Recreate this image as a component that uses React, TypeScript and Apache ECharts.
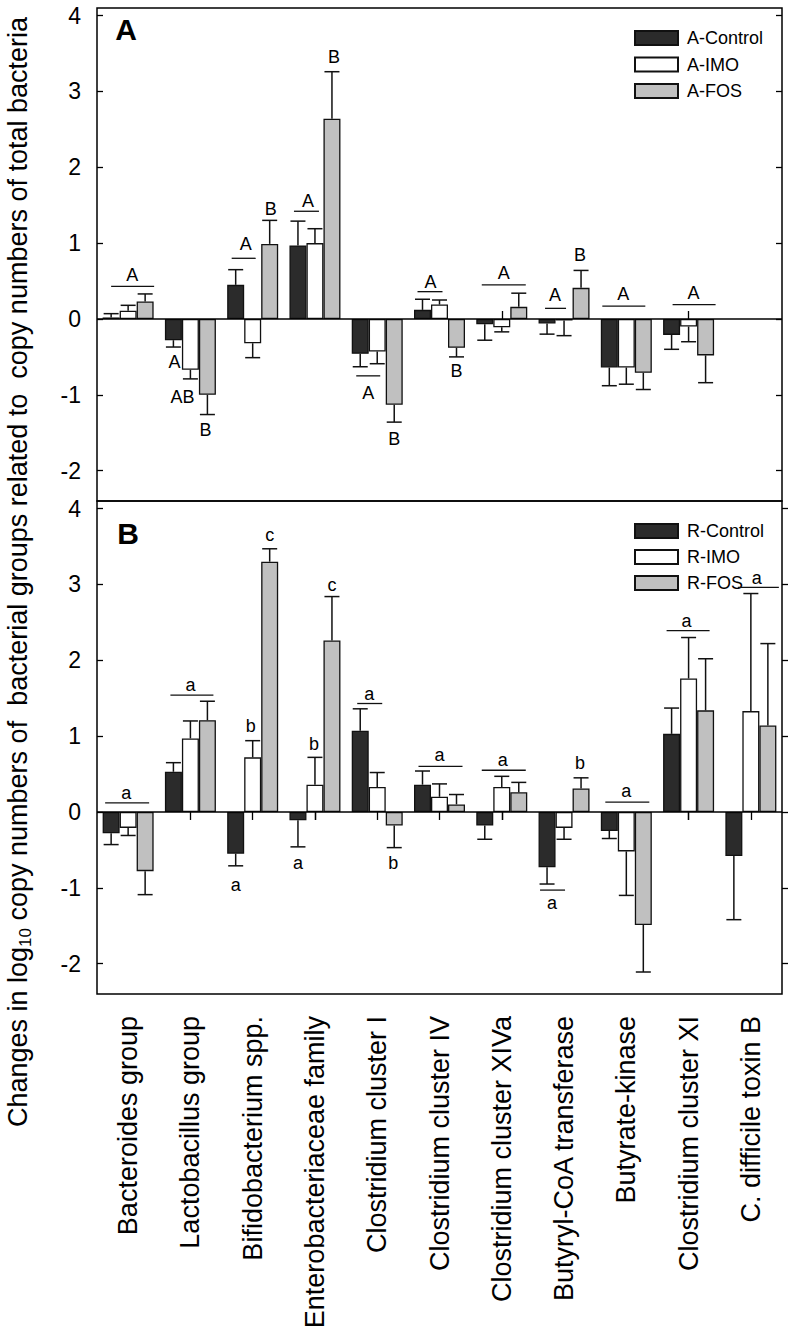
import React, { useEffect, useRef } from "react";
import * as echarts from "echarts";

const FONT = "'Liberation Sans', Arial, Helvetica, sans-serif";

const categories = [
  "Bacteroides group",
  "Lactobacillus group",
  "Bifidobacterium spp.",
  "Enterobacteriaceae family",
  "Clostridium cluster I",
  "Clostridium cluster IV",
  "Clostridium cluster XIVa",
  "Butyryl-CoA transferase",
  "Butyrate-kinase",
  "Clostridium cluster XI",
  "C. difficile toxin B",
];

const yTicks = [-2, -1, 0, 1, 2, 3, 4];

// Panel A
const aControl = [0.02, -0.28, 0.45, 0.97, -0.46, 0.12, -0.07, -0.06, -0.64, -0.21, null];
const aControlErr = [0.05, 0.09, 0.2, 0.32, 0.17, 0.14, 0.21, 0.14, 0.24, 0.19, null];
const aIMO = [0.11, -0.67, -0.32, 1.0, -0.43, 0.19, -0.11, -0.02, -0.64, -0.1, null];
const aIMOErr = [0.07, 0.12, 0.19, 0.19, 0.16, 0.06, 0.06, 0.2, 0.22, 0.2, null];
const aFOS = [0.23, -1.0, 0.99, 2.64, -1.13, -0.38, 0.16, 0.41, -0.71, -0.48, null];
const aFOSErr = [0.1, 0.26, 0.31, 0.62, 0.23, 0.12, 0.18, 0.23, 0.22, 0.36, null];

// Panel B
const rControl = [-0.28, 0.53, -0.55, -0.11, 1.07, 0.36, -0.18, -0.73, -0.25, 1.03, -0.58];
const rControlErr = [0.15, 0.12, 0.16, 0.35, 0.29, 0.18, 0.18, 0.22, 0.1, 0.34, 0.84];
const rIMO = [-0.21, 0.97, 0.72, 0.36, 0.33, 0.2, 0.33, -0.21, -0.52, 1.76, 1.33];
const rIMOErr = [0.1, 0.23, 0.22, 0.36, 0.19, 0.17, 0.14, 0.15, 0.58, 0.54, 1.55];
const rFOS = [-0.78, 1.21, 3.3, 2.26, -0.18, 0.1, 0.26, 0.31, -1.49, 1.34, 1.14];
const rFOSErr = [0.31, 0.25, 0.17, 0.58, 0.29, 0.13, 0.13, 0.14, 0.62, 0.68, 1.08];

// significance letters: [category, text, value]
const lettersA: [number, string, number][] = [
  [0, "A", 0.58],
  [1, "A", -0.57], [1, "AB", -1.03], [1, "B", -1.47],
  [2, "A", 0.99], [2, "B", 1.45],
  [3, "A", 1.56], [3, "B", 3.45],
  [4, "A", -0.98], [4, "B", -1.58],
  [5, "A", 0.49], [5, "B", -0.68],
  [6, "A", 0.6],
  [7, "A", 0.31], [7, "B", 0.85],
  [8, "A", 0.33],
  [9, "A", 0.34],
];
const lettersAShift = [4, -16, -8, 15, -7, 18, -7, 19, -9, 17, -9, 17, 2, -9, 16, -3, 5];

const lettersB: [number, string, number][] = [
  [0, "a", 0.25],
  [1, "a", 1.68],
  [2, "b", 1.13], [2, "c", 3.65], [2, "a", -0.96],
  [3, "b", 0.89], [3, "c", 2.99], [3, "a", -0.67],
  [4, "a", 1.55], [4, "b", -0.67],
  [5, "a", 0.75],
  [6, "a", 0.69],
  [7, "a", -1.2], [7, "b", 0.64],
  [8, "a", 0.27],
  [9, "a", 2.52],
  [10, "a", 3.08],
];
const lettersBShift = [-2, 0, -2, 17, -17, -1, 17, -17, -8, 16, 0, 1, -12, 16, 0, -2, 6];

// significance lines: [category, value]
const linesA: [number, number][] = [
  [0, 0.43], [2, 0.8], [3, 1.42], [4, -0.75], [5, 0.36], [6, 0.45], [7, 0.14], [8, 0.17], [9, 0.19],
];
const linesASpan = [[-17, 26], [-21, 3], [-21, 4], [-21, 3], [-22, 3], [-20, 24], [-19, 2], [-24, 19], [-16, 27]];
const linesB: [number, number][] = [
  [0, 0.12], [1, 1.54], [4, 1.43], [5, 0.6], [6, 0.55], [7, -1.03], [8, 0.13], [9, 2.39], [10, 2.96],
];
const linesBSpan = [[-23, 21], [-20, 23], [-20, 5], [-21, 23], [-20, 24], [-24, 1], [-21, 23], [-22, 21], [-13, 28]];

const COLORS = { control: "#2b2b2b", imo: "#ffffff", fos: "#c0c0c0" };
const BAR_W = 17;

function barSeries(name: string, data: (number | null)[], color: string, axis: number, zero: boolean) {
  const s: any = {
    name,
    type: "bar",
    xAxisIndex: axis === 0 ? 0 : 2,
    yAxisIndex: axis === 0 ? 0 : 2,
    data,
    barWidth: BAR_W,
    barGap: "0%",
    itemStyle: { color, borderColor: "#111", borderWidth: 1.3 },
    z: 2,
  };
  if (zero) {
    s.markLine = {
      silent: true,
      symbol: "none",
      label: { show: false },
      lineStyle: { color: "#000", type: "solid", width: 1.5 },
      data: [{ yAxis: 0 }],
      z: 5,
    };
  }
  return s;
}

function errSeries(values: (number | null)[], errs: (number | null)[], offset: number, axis: number) {
  const data: number[][] = [];
  values.forEach((v, i) => {
    if (v !== null && errs[i] !== null) data.push([i, v as number, errs[i] as number]);
  });
  return {
    type: "custom",
    xAxisIndex: axis === 0 ? 0 : 2,
    yAxisIndex: axis === 0 ? 0 : 2,
    z: 4,
    silent: true,
    data,
    renderItem: (params: any, api: any) => {
      const i = api.value(0);
      const v = api.value(1);
      const e = api.value(2);
      const end = v + (v >= 0 ? e : -e);
      const p0 = api.coord([i, v]);
      const p1 = api.coord([i, end]);
      const x = p0[0] + offset;
      return {
        type: "group",
        children: [
          { type: "line", shape: { x1: x, y1: p0[1], x2: x, y2: p1[1] }, style: { stroke: "#111", lineWidth: 1.5 } },
          { type: "line", shape: { x1: x - 7.5, y1: p1[1], x2: x + 7.5, y2: p1[1] }, style: { stroke: "#111", lineWidth: 1.5 } },
        ],
      };
    },
  };
}

function letterSeries(letters: [number, string, number][], shifts: number[], axis: number) {
  return {
    type: "custom",
    xAxisIndex: axis === 0 ? 0 : 2,
    yAxisIndex: axis === 0 ? 0 : 2,
    z: 6,
    silent: true,
    data: letters.map((l) => [l[0], l[2]]),
    renderItem: (params: any, api: any) => {
      const l = letters[params.dataIndex];
      const p = api.coord([l[0], l[2]]);
      return {
        type: "text",
        x: p[0] + shifts[params.dataIndex],
        y: p[1],
        style: { text: l[1], fontSize: 18, fontFamily: FONT, fill: "#000", align: "center", verticalAlign: "middle" },
      };
    },
  };
}

function sigLineSeries(lines: [number, number][], spans: number[][], axis: number) {
  return {
    type: "custom",
    xAxisIndex: axis === 0 ? 0 : 2,
    yAxisIndex: axis === 0 ? 0 : 2,
    z: 6,
    silent: true,
    data: lines.map((l) => [l[0], l[1]]),
    renderItem: (params: any, api: any) => {
      const l = lines[params.dataIndex];
      const sp = spans[params.dataIndex];
      const p = api.coord([l[0], l[1]]);
      return {
        type: "line",
        shape: { x1: p[0] + sp[0], y1: p[1], x2: p[0] + sp[1], y2: p[1] },
        style: { stroke: "#111", lineWidth: 1.3 },
      };
    },
  };
}

function yAxisDef(grid: number, position: "left" | "right", showLabel: boolean, inside: boolean) {
  return {
    type: "value",
    gridIndex: grid,
    position,
    min: -2.4,
    max: 4.1,
    axisLine: { show: false },
    splitLine: { show: false },
    axisTick: { show: true, inside, length: 6, customValues: yTicks, lineStyle: { color: "#000", width: 1.3 } },
    axisLabel: {
      show: showLabel,
      customValues: yTicks,
      fontSize: 23,
      color: "#000",
      fontFamily: FONT,
      margin: 16,
    },
  };
}

export default function App() {
  const ref = useRef<HTMLDivElement>(null);

  useEffect(() => {
    if (!ref.current) return;
    const chart = echarts.init(ref.current, undefined, { renderer: "svg" });

    const option: any = {
      animation: false,
      backgroundColor: "#ffffff",
      textStyle: { fontFamily: FONT },
      grid: [
        { left: 97, top: 8, width: 685, height: 493, show: true, borderColor: "#000", borderWidth: 1.5, backgroundColor: "transparent" },
        { left: 97, top: 501, width: 685, height: 493, show: true, borderColor: "#000", borderWidth: 1.5, backgroundColor: "transparent" },
      ],
      legend: [
        {
          data: ["A-Control", "A-IMO", "A-FOS"],
          orient: "vertical",
          left: 629,
          top: 24,
          itemWidth: 43,
          itemHeight: 14,
          itemGap: 8.5,
          icon: "rect",
          selectedMode: false,
          textStyle: { fontSize: 18, color: "#000", fontFamily: FONT, padding: [0, 0, 0, 4] },
        },
        {
          data: ["R-Control", "R-IMO", "R-FOS"],
          orient: "vertical",
          left: 629,
          top: 517,
          itemWidth: 43,
          itemHeight: 14,
          itemGap: 8,
          icon: "rect",
          selectedMode: false,
          textStyle: { fontSize: 18, color: "#000", fontFamily: FONT, padding: [0, 0, 0, 4] },
        },
      ],
      xAxis: [
        {
          type: "category",
          gridIndex: 0,
          position: "bottom",
          data: categories,
          axisLine: { show: false },
          axisTick: { show: true, inside: true, length: 8, alignWithLabel: true, lineStyle: { color: "#000", width: 1.3 } },
          axisLabel: { show: false },
        },
        {
          type: "category",
          gridIndex: 1,
          position: "top",
          data: categories,
          axisLine: { show: false },
          axisTick: { show: true, inside: true, length: 8, alignWithLabel: true, lineStyle: { color: "#000", width: 1.3 } },
          axisLabel: { show: false },
        },
        {
          type: "category",
          gridIndex: 1,
          position: "bottom",
          data: categories,
          axisLine: { show: false },
          axisTick: { show: true, inside: false, length: 8, alignWithLabel: true, lineStyle: { color: "#000", width: 1.3 } },
          axisLabel: {
            show: true,
            rotate: 90,
            interval: 0,
            fontSize: 27,
            color: "#000",
            fontFamily: FONT,
            margin: 22,
          },
        },
      ],
      yAxis: [
        yAxisDef(0, "left", true, true),
        yAxisDef(0, "right", false, true),
        yAxisDef(1, "left", true, true),
        yAxisDef(1, "right", false, false),
      ],
      series: [
        barSeries("A-Control", aControl, COLORS.control, 0, true),
        barSeries("A-IMO", aIMO, COLORS.imo, 0, false),
        barSeries("A-FOS", aFOS, COLORS.fos, 0, false),
        errSeries(aControl, aControlErr, -BAR_W, 0),
        errSeries(aIMO, aIMOErr, 0, 0),
        errSeries(aFOS, aFOSErr, BAR_W, 0),
        letterSeries(lettersA, lettersAShift, 0),
        sigLineSeries(linesA, linesASpan, 0),
        barSeries("R-Control", rControl, COLORS.control, 1, true),
        barSeries("R-IMO", rIMO, COLORS.imo, 1, false),
        barSeries("R-FOS", rFOS, COLORS.fos, 1, false),
        errSeries(rControl, rControlErr, -BAR_W, 1),
        errSeries(rIMO, rIMOErr, 0, 1),
        errSeries(rFOS, rFOSErr, BAR_W, 1),
        letterSeries(lettersB, lettersBShift, 1),
        sigLineSeries(linesB, linesBSpan, 1),
      ],
      graphic: [
        {
          type: "text",
          x: 126,
          y: 29,
          style: { text: "A", fontSize: 30, fontWeight: "bold", fontFamily: FONT, fill: "#000", align: "center", verticalAlign: "middle" },
        },
        {
          type: "text",
          x: 128,
          y: 533,
          style: { text: "B", fontSize: 30, fontWeight: "bold", fontFamily: FONT, fill: "#000", align: "center", verticalAlign: "middle" },
        },
        {
          type: "text",
          x: 18,
          y: 572,
          rotation: Math.PI / 2,
          style: {
            text: "Changes in log{sub|10} copy numbers of  bacterial groups related to  copy numbers of total bacteria",
            fontSize: 27,
            lineHeight: 32,
            fontFamily: FONT,
            fill: "#000",
            align: "center",
            verticalAlign: "middle",
            rich: {
              sub: { fontSize: 17, lineHeight: 16, verticalAlign: "bottom", fontFamily: FONT, fill: "#000" },
            },
          },
        },
      ],
    };

    chart.setOption(option);
    return () => chart.dispose();
  }, []);

  return (
    <div
      ref={ref}
      style={{ position: "fixed", left: 0, top: 0, width: 797, height: 1338, background: "#fff" }}
    />
  );
}
